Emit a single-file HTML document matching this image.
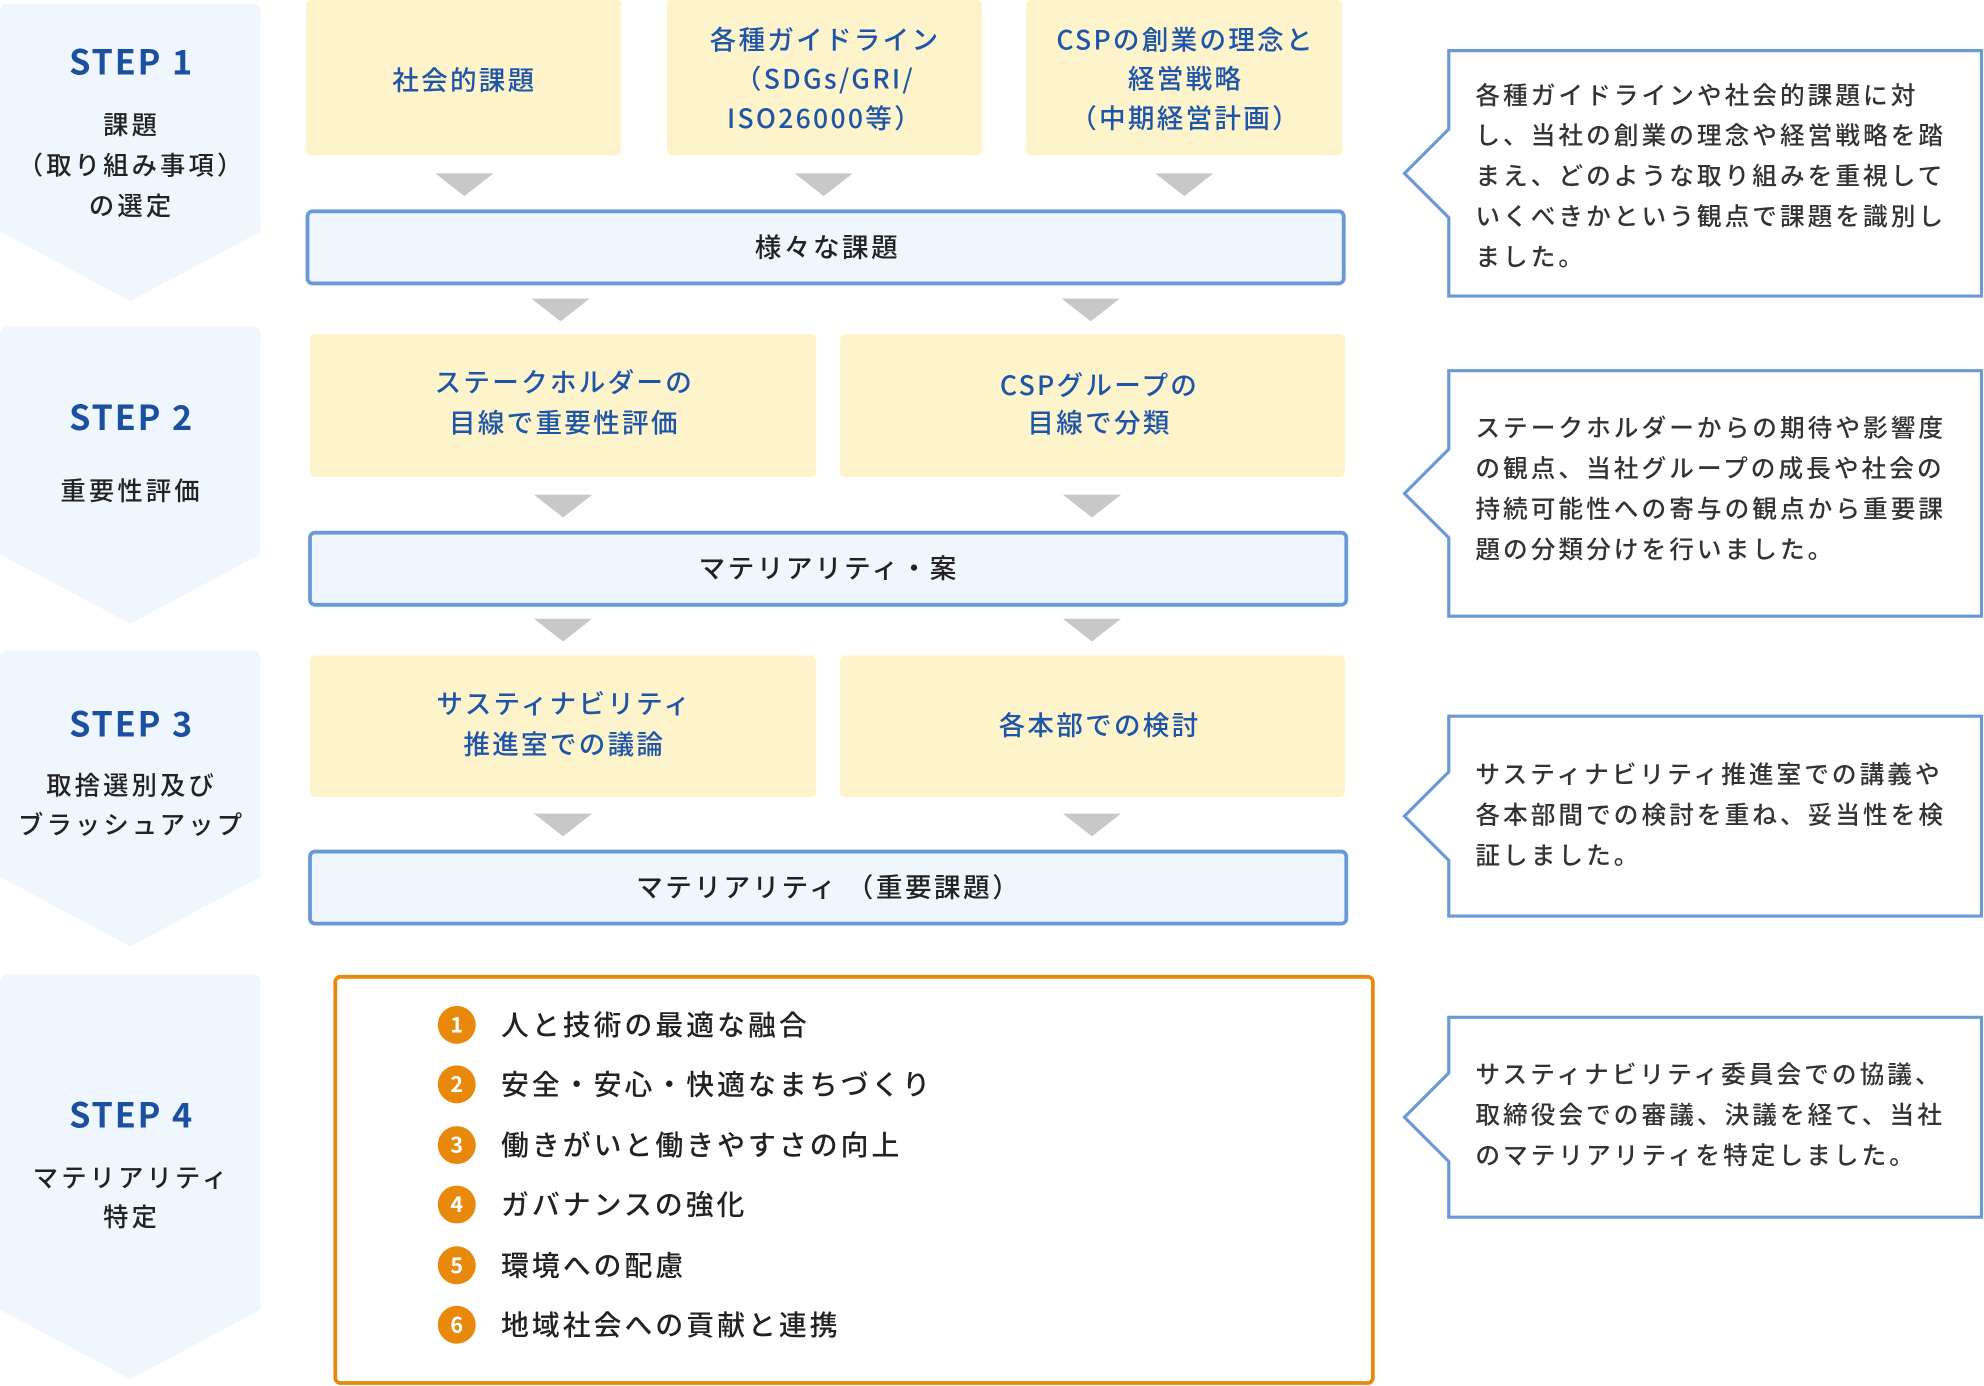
<!DOCTYPE html>
<html><head><meta charset="utf-8"><style>
html,body{margin:0;padding:0;background:#fff;}
svg{display:block;}
text{font-family:"Noto Sans CJK JP","Liberation Sans",sans-serif;font-weight:500;}
</style></head><body>
<svg width="1984" height="1386" viewBox="0 0 1568 1095.4" xmlns="http://www.w3.org/2000/svg">
<defs>
<g id="tri"><polygon points="-23,0 23,0 0,18" fill="#c8c8c8"/></g>
</defs>
<g fill="#f0f6fd">
<path d="M0,10 Q0,3 7,3 L199,3 Q206,3 206,10 L206,183 L103,238 L0,183 Z"/>
<path d="M0,265 Q0,258 7,258 L199,258 Q206,258 206,265 L206,438 L103,493 L0,438 Z"/>
<path d="M0,521 Q0,514 7,514 L199,514 Q206,514 206,521 L206,693 L103,748 L0,693 Z"/>
<path d="M0,777 Q0,770 7,770 L199,770 Q206,770 206,777 L206,1035 L103,1090 L0,1035 Z"/>
</g>
<g fill="#1b4fa0" font-size="27" text-anchor="middle" letter-spacing="1.5">
<text x="104" y="59" style="font-weight:bold">STEP 1</text>
<text x="104" y="340" style="font-weight:bold">STEP 2</text>
<text x="104" y="582" style="font-weight:bold">STEP 3</text>
<text x="104" y="891" style="font-weight:bold">STEP 4</text>
</g>
<g fill="#222" font-size="20" text-anchor="middle" letter-spacing="2.5">
<text x="104" y="106">課題</text>
<text x="104" y="138">（取り組み事項）</text>
<text x="104" y="170">の選定</text>
<text x="104" y="395">重要性評価</text>
<text x="104" y="628">取捨選別及び</text>
<text x="104" y="659">ブラッシュアップ</text>
<text x="104" y="938">マテリアリティ</text>
<text x="104" y="969">特定</text>
</g>
<g fill="#fdf4cc">
<rect x="242" y="0" width="249" height="123" rx="4"/>
<rect x="527" y="0" width="249" height="123" rx="4"/>
<rect x="811" y="0" width="250" height="123" rx="4"/>
<rect x="245" y="264" width="400" height="113" rx="4"/>
<rect x="664" y="264" width="399" height="113" rx="4"/>
<rect x="245" y="518" width="400" height="112" rx="4"/>
<rect x="664" y="518" width="399" height="112" rx="4"/>
</g>
<g fill="#1e55a8" font-size="21" text-anchor="middle" letter-spacing="1.8">
<text x="367" y="71">社会的課題</text>
<text x="652" y="39">各種ガイドライン</text>
<text x="652" y="70">（SDGs/GRI/</text>
<text x="652" y="101">ISO26000等）</text>
<text x="937" y="39">CSPの創業の理念と</text>
<text x="937" y="70">経営戦略</text>
<text x="937" y="101">（中期経営計画）</text>
<text x="446" y="310">ステークホルダーの</text>
<text x="446" y="342">目線で重要性評価</text>
<text x="869" y="312">CSPグループの</text>
<text x="869" y="342">目線で分類</text>
<text x="446" y="564">サスティナビリティ</text>
<text x="446" y="596">推進室での議論</text>
<text x="869" y="581">各本部での検討</text>
</g>
<use href="#tri" x="367" y="137"/><use href="#tri" x="651" y="137"/><use href="#tri" x="936" y="137"/>
<use href="#tri" x="443" y="236"/><use href="#tri" x="862" y="236"/>
<use href="#tri" x="445" y="391"/><use href="#tri" x="863" y="391"/>
<use href="#tri" x="445" y="489"/><use href="#tri" x="863" y="489"/>
<use href="#tri" x="445" y="643"/><use href="#tri" x="863" y="643"/>
<g fill="#f0f6fd" stroke="#6a9ad6" stroke-width="3">
<rect x="243" y="167" width="819" height="57" rx="4"/>
<rect x="245" y="421" width="819" height="57" rx="4"/>
<rect x="245" y="673" width="819" height="57" rx="4"/>
</g>
<g fill="#222" font-size="21" text-anchor="middle" letter-spacing="2">
<text x="654" y="203">様々な課題</text>
<text x="655" y="457">マテリアリティ・案</text>
<text x="655" y="709">マテリアリティ （重要課題）</text>
</g>
<rect x="265" y="772" width="820" height="321" rx="4" fill="#fff" stroke="#e8890c" stroke-width="3"/>
<g fill="#e8890c">
<circle cx="361" cy="810" r="15"/><circle cx="361" cy="857" r="15"/><circle cx="361" cy="905" r="15"/>
<circle cx="361" cy="952" r="15"/><circle cx="361" cy="1000" r="15"/><circle cx="361" cy="1047" r="15"/>
</g>
<g fill="#fff" font-size="17" text-anchor="middle">
<text x="361" y="816" style="font-weight:bold">1</text><text x="361" y="863" style="font-weight:bold">2</text><text x="361" y="911" style="font-weight:bold">3</text>
<text x="361" y="958" style="font-weight:bold">4</text><text x="361" y="1006" style="font-weight:bold">5</text><text x="361" y="1053" style="font-weight:bold">6</text>
</g>
<g fill="#222" font-size="22" letter-spacing="2.4">
<text x="396" y="818">人と技術の最適な融合</text>
<text x="396" y="865">安全・安心・快適なまちづくり</text>
<text x="396" y="913">働きがいと働きやすさの向上</text>
<text x="396" y="960">ガバナンスの強化</text>
<text x="396" y="1008">環境への配慮</text>
<text x="396" y="1055">地域社会への貢献と連携</text>
</g>
<g fill="#fff" stroke="#6a9ad6" stroke-width="2.5" stroke-linejoin="miter">
<path d="M1145,40 L1566,40 L1566,234 L1145,234 L1145,172 L1110,137 L1145,102 Z"/>
<path d="M1145,293 L1566,293 L1566,487 L1145,487 L1145,425 L1110,390 L1145,355 Z"/>
<path d="M1145,566 L1566,566 L1566,724 L1145,724 L1145,680 L1110,645 L1145,610 Z"/>
<path d="M1145,804 L1566,804 L1566,962 L1145,962 L1145,918 L1110,883 L1145,848 Z"/>
</g>
<g fill="#333" font-size="19.5" letter-spacing="2.4">
<text x="1166" y="82">各種ガイドラインや社会的課題に対</text>
<text x="1166" y="114">し、当社の創業の理念や経営戦略を踏</text>
<text x="1166" y="146">まえ、どのような取り組みを重視して</text>
<text x="1166" y="178">いくべきかという観点で課題を識別し</text>
<text x="1166" y="210">ました。</text>
<text x="1166" y="345">ステークホルダーからの期待や影響度</text>
<text x="1166" y="377">の観点、当社グループの成長や社会の</text>
<text x="1166" y="409">持続可能性への寄与の観点から重要課</text>
<text x="1166" y="441">題の分類分けを行いました。</text>
<text x="1166" y="619">サスティナビリティ推進室での講義や</text>
<text x="1166" y="651">各本部間での検討を重ね、妥当性を検</text>
<text x="1166" y="683">証しました。</text>
<text x="1166" y="856">サスティナビリティ委員会での協議、</text>
<text x="1166" y="888">取締役会での審議、決議を経て、当社</text>
<text x="1166" y="920">のマテリアリティを特定しました。</text>
</g>
</svg>
</body></html>
